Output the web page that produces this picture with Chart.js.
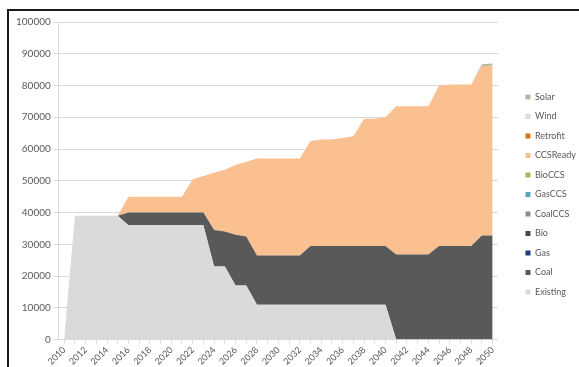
<!DOCTYPE html>
<html>
<head>
<meta charset="utf-8">
<script src="https://cdn.jsdelivr.net/npm/chart.js@4"></script>
<style>
  html, body { margin: 0; padding: 0; background: #fff; }
  body { width: 579px; height: 367px; overflow: hidden; position: relative; }
  #c { position: absolute; left: 0; top: 0; }
  #frame { position: absolute; left: 7px; top: 9px; width: 700px; height: 500px;
           border-left: 2px solid #1a1a1a; border-top: 2px solid #1a1a1a; pointer-events: none; }
</style>
</head>
<body>
<canvas id="c" width="579" height="400"></canvas>
<div id="frame"></div>
<script>
const years = ["2010","2011","2012","2013","2014","2015","2016","2017","2018","2019",
               "2020","2021","2022","2023","2024","2025","2026","2027","2028","2029",
               "2030","2031","2032","2033","2034","2035","2036","2037","2038","2039",
               "2040","2041","2042","2043","2044","2045","2046","2047","2048","2049","2050"];

const existing = [0, 39000, 39000, 39000, 39000, 39000,
                  36000, 36000, 36000, 36000, 36000, 36000, 36000, 36000,
                  23000, 23000, 17000, 17000,
                  11000, 11000, 11000, 11000, 11000, 11000, 11000, 11000, 11000, 11000, 11000, 11000, 11000,
                  0, 0, 0, 0, 0, 0, 0, 0, 0, 0];

const coal = [0, 0, 0, 0, 0, 0,
              4000, 4000, 4000, 4000, 4000, 4000, 4000, 4000,
              11500, 11000, 16000, 15500,
              15500, 15500, 15500, 15500, 15500,
              18500, 18500, 18500, 18500, 18500, 18500, 18500, 18500,
              26800, 26800, 26800, 26800,
              29500, 29500, 29500, 29500,
              32800, 32800];

const ccsReady = [0, 0, 0, 0, 0, 0,
                  5000, 5000, 5000, 5000, 5000, 5000,
                  10500, 11500,
                  18000, 19500, 22000, 23500,
                  30500, 30500, 30500, 30500, 30500,
                  33000, 33500, 33500, 34000, 34500,
                  40000, 40000, 40500,
                  46700, 46700, 46700, 46700,
                  50500, 50800, 50800, 50800,
                  53300, 53500];

const solar = [0, 0, 0, 0, 0, 0, 0, 0, 0, 0, 0, 0, 0, 0, 0, 0, 0, 0, 0, 0,
               0, 0, 0, 0, 0, 0, 0, 0, 0, 0, 0, 0, 0, 0, 0, 0, 0, 0, 0, 600, 600];

// series that never show up in the picture
const zeros = [0, 0, 0, 0, 0, 0, 0, 0, 0, 0, 0, 0, 0, 0, 0, 0, 0, 0, 0, 0,
               0, 0, 0, 0, 0, 0, 0, 0, 0, 0, 0, 0, 0, 0, 0, 0, 0, 0, 0, 0, 0];

const yTicks = [0, 10000, 20000, 30000, 40000, 50000, 60000, 70000, 80000, 90000, 100000];

// bottom of the stack first
const series = [
    { label: "Existing", data: existing, color: "#dadada" },
    { label: "Coal",     data: coal,     color: "#595959" },
    { label: "Gas",      data: zeros,    color: "#1f3d7a" },
    { label: "Bio",      data: zeros,    color: "#4a4a3a" },
    { label: "CoalCCS",  data: zeros,    color: "#8c8c8c" },
    { label: "GasCCS",   data: zeros,    color: "#5aa5bd" },
    { label: "BioCCS",   data: zeros,    color: "#9bbb59" },
    { label: "CCSReady", data: ccsReady, color: "#fac090" },
    { label: "Retrofit", data: zeros,    color: "#e46c0a" },
    { label: "Wind",     data: zeros,    color: "#d9d9d9" },
    { label: "Solar",    data: solar,    color: "#b5b8a0" }
];

const FONT = "Lato, 'Open Sans', sans-serif";
const GRID = "#d9d9d9";

// push the legend a little further from the plot
const legendNudge = {
    id: "legendNudge",
    afterLayout(chart) {
        const lg = chart.legend;
        lg.left += 17; lg.right += 17;
        lg.top += 60; lg.bottom += 60;
    }
};

new Chart(document.getElementById("c"), {
    type: "line",
    data: {
        labels: years,
        datasets: series.map((s, i) => ({
            label: s.label,
            data: s.data,
            backgroundColor: s.color,
            borderColor: "transparent",
            borderWidth: 0,
            pointRadius: 0,
            pointHoverRadius: 0,
            tension: 0,
            fill: i === 0 ? "origin" : "-1"
        }))
    },
    options: {
        responsive: false,
        animation: false,
        layout: { padding: { top: 22, left: 13, right: 10, bottom: 32 } },
        plugins: {
            tooltip: { enabled: false },
            legend: {
                position: "right",
                align: "start",
                reverse: true,
                labels: {
                    boxWidth: 5,
                    boxHeight: 5,
                    padding: 10.5,
                    color: "#595959",
                    font: { family: FONT, size: 9 }
                }
            }
        },
        scales: {
            x: {
                offset: true,
                grid: { display: true, drawOnChartArea: false, drawTicks: true, tickLength: 4, color: GRID },
                border: { display: true, color: GRID },
                ticks: {
                    autoSkip: false,
                    maxRotation: 45,
                    minRotation: 45,
                    padding: 1,
                    color: "#595959",
                    font: { family: FONT, size: 9 },
                    callback: (v, i) => (i % 2 === 0 ? years[i] : "")
                }
            },
            y: {
                stacked: true,
                min: 0,
                max: 100000,
                afterBuildTicks: axis => { axis.ticks = yTicks.map(v => ({ value: v })); },
                grid: { color: GRID, lineWidth: 1, tickLength: 5 },
                border: { display: true, color: GRID },
                ticks: {
                    padding: 3,
                    color: "#595959",
                    font: { family: FONT, size: 10 },
                    callback: v => String(v)
                }
            }
        }
    },
    plugins: [legendNudge]
});
</script>
</body>
</html>
